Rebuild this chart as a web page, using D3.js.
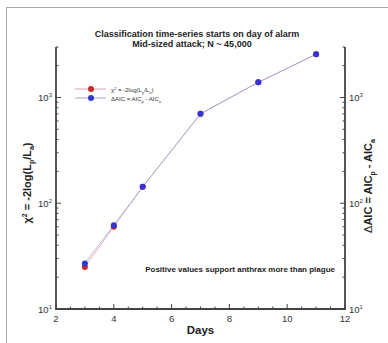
<!DOCTYPE html>
<html>
<head>
<meta charset="utf-8">
<script src="https://cdn.jsdelivr.net/npm/d3@7"></script>
<style>
  body { margin: 0; background: #fff; }
  svg { display: block; font-family: "Liberation Sans", Arial, sans-serif; }
</style>
</head>
<body>
<svg id="chart" width="388" height="343"></svg>
<script>
// days after alarm and the two test statistics
var days = [3, 4, 5, 7, 9, 11];
var chi2 = [25, 60, 143, 700, 1390, 2560];
var dAIC = [27, 62, 143, 700, 1390, 2560];
var xTicks = [2, 4, 6, 8, 10, 12];
var yTicks = [10, 100, 1000];

var color_red = "#c8282c";
var color_blue = "#3434d4";
var color_axis = "#444";

var svg = d3.select("#chart"),
    margin = { top: 47, right: 43, bottom: 34, left: 56 },
    width = 388 - margin.left - margin.right,
    height = 343 - margin.top - margin.bottom;

// outer frame
svg.append("rect")
    .attr("x", 6.5).attr("y", 7.5)
    .attr("width", 400).attr("height", 400)
    .attr("fill", "none").attr("stroke", "#aaa").attr("stroke-width", 1);

var x = d3.scaleLinear().domain([2, 12]).range([0, width]);
var y = d3.scaleLog().domain([10, 3000]).range([height, 0]);

var g = svg.append("g").attr("transform", "translate(" + margin.left + "," + margin.top + ")");

// title
var title = svg.append("text")
    .attr("text-anchor", "middle")
    .attr("font-weight", "bold")
    .attr("font-size", "9px")
    .attr("fill", "#222");
title.append("tspan").attr("x", 197).attr("y", 37).text("Classification time-series starts on day of alarm");
title.append("tspan").attr("x", 192).attr("y", 47).text("Mid-sized attack; N ~ 45,000");

// minor/major ticks
var xMinor = d3.range(2, 12.01, 0.5);
var yMinor = [];
[10, 100, 1000].forEach(function (d) {
    for (var k = 1; k < 10; k++) { if (d * k <= 3000) yMinor.push(d * k); }
});

// bottom ticks point inward
g.selectAll(".xtick")
    .data(xMinor)
    .enter().append("line")
    .attr("x1", function (d) { return x(d); })
    .attr("x2", function (d) { return x(d); })
    .attr("y1", height)
    .attr("y2", function (d) { return height - (d % 2 === 0 ? 5 : 2.5); })
    .attr("stroke", color_axis).attr("stroke-width", 1);

// left and right ticks point inward
[0, width].forEach(function (xPos) {
    var dir = xPos === 0 ? 1 : -1;
    g.selectAll(null)
        .data(yMinor)
        .enter().append("line")
        .attr("x1", xPos)
        .attr("x2", function (d) { return xPos + dir * (yTicks.indexOf(d) >= 0 ? 5 : 2.5); })
        .attr("y1", function (d) { return y(d); })
        .attr("y2", function (d) { return y(d); })
        .attr("stroke", color_axis).attr("stroke-width", 1);
});

// axis lines
g.append("path")
    .attr("d", "M0,0V" + height + "H" + width + "V0")
    .attr("fill", "none").attr("stroke", color_axis).attr("stroke-width", 1.8);

// x tick labels
g.selectAll(".xlabel")
    .data(xTicks)
    .enter().append("text")
    .attr("x", function (d) { return x(d); })
    .attr("y", height + 13)
    .attr("text-anchor", "middle")
    .attr("font-size", "9.5px")
    .attr("fill", "#333")
    .text(function (d) { return d; });

// y tick labels (10^n) on both sides
function powerLabel(sel, anchorX, anchor) {
    sel.each(function (d) {
        var t = d3.select(this)
            .attr("x", anchorX)
            .attr("y", y(d) + 3.5)
            .attr("text-anchor", anchor)
            .attr("font-size", "9.5px")
            .attr("fill", "#333");
        t.append("tspan").text("10");
        t.append("tspan").attr("dy", -4).attr("font-size", "6px").text(Math.round(Math.log10(d)));
    });
}
g.selectAll(".ylabelL").data(yTicks).enter().append("text").call(powerLabel, -4, "end");
g.selectAll(".ylabelR").data(yTicks).enter().append("text").call(powerLabel, width + 4, "start");

// axis titles
svg.append("text")
    .attr("x", margin.left + width / 2)
    .attr("y", 334)
    .attr("text-anchor", "middle")
    .attr("font-weight", "bold")
    .attr("font-size", "11.5px")
    .attr("fill", "#222")
    .text("Days");

var yl = svg.append("text")
    .attr("transform", "translate(31," + (margin.top + height / 2 + 5) + ") rotate(-90)")
    .attr("text-anchor", "middle")
    .attr("font-weight", "bold")
    .attr("font-size", "11px")
    .attr("fill", "#222");
yl.append("tspan").text("\u03c7");
yl.append("tspan").attr("dy", -4).attr("font-size", "7px").text("2");
yl.append("tspan").attr("dy", 4).text(" = -2log(L");
yl.append("tspan").attr("dy", 3).attr("font-size", "7px").text("p");
yl.append("tspan").attr("dy", -3).text("/L");
yl.append("tspan").attr("dy", 3).attr("font-size", "7px").text("a");
yl.append("tspan").attr("dy", -3).text(")");

var yr = svg.append("text")
    .attr("transform", "translate(372," + (margin.top + height / 2 + 8) + ") rotate(-90)")
    .attr("text-anchor", "middle")
    .attr("font-weight", "bold")
    .attr("font-size", "11px")
    .attr("fill", "#222");
yr.append("tspan").attr("font-weight", "normal").text("\u0394");
yr.append("tspan").text("AIC = AIC");
yr.append("tspan").attr("dy", 3).attr("font-size", "7px").text("p");
yr.append("tspan").attr("dy", -3).text(" - AIC");
yr.append("tspan").attr("dy", 3).attr("font-size", "7px").text("a");

// annotation
g.append("text")
    .attr("x", width - 10)
    .attr("y", y(24) + 3)
    .attr("text-anchor", "end")
    .attr("font-weight", "bold")
    .attr("font-size", "8px")
    .attr("fill", "#222")
    .text("Positive values support anthrax more than plague");

// series
var series = [
    { name: "chi2", values: chi2, color: color_red, line: "#d08890" },
    { name: "aic", values: dAIC, color: color_blue, line: "#9090d0" }
];

var line = d3.line()
    .x(function (d) { return x(d[0]); })
    .y(function (d) { return y(d[1]); });

series.forEach(function (s) {
    g.append("path")
        .datum(days.map(function (d, i) { return [d, s.values[i]]; }))
        .attr("d", line)
        .attr("fill", "none")
        .attr("stroke", s.line)
        .attr("stroke-width", 0.8)
        .attr("opacity", 0.8);
});
series.forEach(function (s) {
    g.selectAll(null)
        .data(days.map(function (d, i) { return [d, s.values[i]]; }))
        .enter().append("circle")
        .attr("cx", function (d) { return x(d[0]); })
        .attr("cy", function (d) { return y(d[1]); })
        .attr("r", 3)
        .attr("fill", s.color);
});

// legend
var legend = svg.append("g").attr("transform", "translate(75,89)");
var legendRows = [
    { color: color_red, line: "#d08890", parts: [["\u03c7", 0], ["2", -1], [" = -2log(L", 0], ["p", 1], ["/L", 0], ["a", 1], [")", 0]] },
    { color: color_blue, line: "#9090d0", parts: [["\u0394AIC = AIC", 0], ["p", 1], [" - AIC", 0], ["a", 1]] }
];
legendRows.forEach(function (r, i) {
    var row = legend.append("g").attr("transform", "translate(0," + (i * 9) + ")");
    row.append("line").attr("x1", 0).attr("x2", 31).attr("stroke", r.line).attr("stroke-width", 0.8);
    row.append("circle").attr("cx", 16).attr("r", 3).attr("fill", r.color);
    var t = row.append("text").attr("x", 36).attr("y", 2.5).attr("font-size", "6px").attr("fill", "#333");
    var prev = 0;
    r.parts.forEach(function (p) {
        var shift = p[1] * 2 - prev * 2;
        prev = p[1];
        t.append("tspan").attr("dy", shift).attr("font-size", p[1] ? "4px" : "6px").text(p[0]);
    });
});
</script>
</body>
</html>
